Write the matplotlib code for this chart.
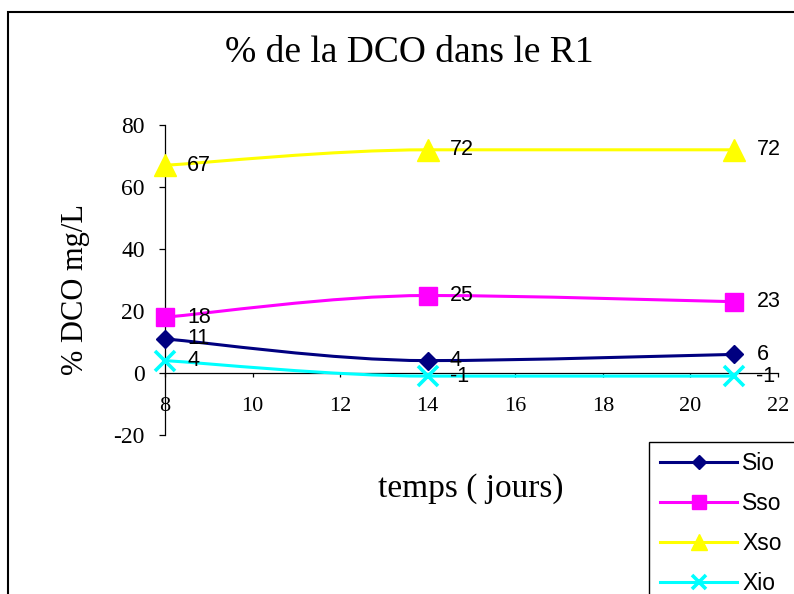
import numpy as np
import matplotlib
matplotlib.use("Agg")
import matplotlib.pyplot as plt
from matplotlib.path import Path
from matplotlib.patches import PathPatch, Rectangle
from matplotlib.lines import Line2D

# Data
days = [8, 14, 21]
sio = [11, 4, 6]
sso = [18, 25, 23]
xso = [67, 72, 72]
xio = [4, -1, -1]
series_names = ["Sio", "Sso", "Xso", "Xio"]

x_ticks = [8, 10, 12, 14, 16, 18, 20, 22]
y_ticks = [-20, 0, 20, 40, 60, 80]

SERIF = "Liberation Serif"
SANS = "Liberation Sans"
plt.rcParams["font.family"] = SERIF
plt.rcParams["axes.unicode_minus"] = False

# style for each series: colour, marker, plot size, legend size, edge width
styles = [
    ("#000080", "D", 9.5, 7, 1.0),
    ("#FF00FF", "s", 13.5, 10.5, 1.0),
    ("#FFFF00", "^", 16, 11.5, 1.0),
    ("#00FFFF", "x", 15, 9.5, 2.6),
]


def smooth_path(x, y):
    """Bezier through the points; flat tangent where the series turns or levels off."""
    p = np.column_stack([x, y]).astype(float)
    n = len(p)
    tang = np.zeros_like(p)
    for i in range(n):
        a = p[max(i - 1, 0)]
        b = p[min(i + 1, n - 1)]
        tang[i] = (b - a) / 6
        if 0 < i < n - 1 and (p[i, 1] - a[1]) * (b[1] - p[i, 1]) <= 0:
            tang[i, 1] = 0.0
    verts = [tuple(p[0])]
    codes = [Path.MOVETO]
    for i in range(n - 1):
        verts += [tuple(p[i] + tang[i]), tuple(p[i + 1] - tang[i + 1]), tuple(p[i + 1])]
        codes += [Path.CURVE4] * 3
    return Path(verts, codes)


fig = plt.figure(figsize=(7.94, 5.94), dpi=100)
ax = fig.add_axes([165 / 794, 1 - 435 / 594, (778 - 165) / 794, (435 - 125) / 594])

handles = []
for name, vals, (col, mk, ms, lms, mew) in zip(series_names, [sio, sso, xso, xio], styles):
    ax.add_patch(PathPatch(smooth_path(days, vals), fill=False, edgecolor=col,
                           lw=2.2, clip_on=False, zorder=3))
    ax.plot(days, vals, linestyle="none", marker=mk, markersize=ms, color=col,
            markeredgecolor=col, markeredgewidth=mew, clip_on=False, zorder=4)
    for xv, yv in zip(days, vals):
        ax.annotate(str(yv), (xv, yv), xytext=(16, 0), textcoords="offset points",
                    ha="left", va="center", fontsize=15.5, family=SANS, zorder=5)
    handles.append(Line2D([], [], color=col, lw=2.2, marker=mk, markersize=lms,
                          markeredgecolor=col, markeredgewidth=mew))

ax.set_xlim(8, 22)
ax.set_ylim(-20, 80)
ax.set_xticks(x_ticks)
ax.set_yticks(y_ticks)
ax.set_yticklabels([str(v) for v in y_ticks], fontsize=17, family=SERIF)
for s in ["top", "right"]:
    ax.spines[s].set_visible(False)
ax.spines["bottom"].set_position(("data", 0))
ax.spines["left"].set_linewidth(0.9)
ax.spines["bottom"].set_linewidth(0.9)
ax.tick_params(axis="x", direction="out", length=3, width=0.9, labelbottom=False)
ax.tick_params(axis="y", direction="out", length=4.5, width=0.9, pad=10)

# x tick labels sit a fixed distance below the zero line
for v in x_ticks:
    ax.annotate(str(v), (v, 0), xytext=(0, -17), textcoords="offset points",
                ha="center", va="top", fontsize=16, family=SERIF, annotation_clip=False)

# titles
fig.text(0.516, 0.912, "% de la DCO dans le R1", ha="center", va="center",
         fontsize=27, family=SERIF)
fig.text(0.0945, 0.512, "% DCO mg/L", ha="center", va="center", rotation=90,
         fontsize=22, family=SERIF)
fig.text(0.593, 0.178, "temps ( jours)", ha="center", va="center",
         fontsize=24, family=SERIF)

# outer chart border and legend box
fig.patches.append(Rectangle((8 / 794, -0.1), 1.2, 1.1 - 12 / 594, transform=fig.transFigure,
                             fill=False, edgecolor="black", lw=1.5))
fig.patches.append(Rectangle((649 / 794, -0.1), 0.3, 0.1 + 1 - 442 / 594,
                             transform=fig.transFigure, fill=False, edgecolor="black", lw=1.0))

fig.legend(handles, series_names, loc="upper left", bbox_to_anchor=(660 / 794, 1 - 452 / 594),
           bbox_transform=fig.transFigure, frameon=False, borderpad=0, borderaxespad=0,
           handlelength=3.36, handletextpad=0.22, labelspacing=0.74,
           prop={"family": SANS, "size": 16.5})

fig.savefig("out.png", dpi=100)
